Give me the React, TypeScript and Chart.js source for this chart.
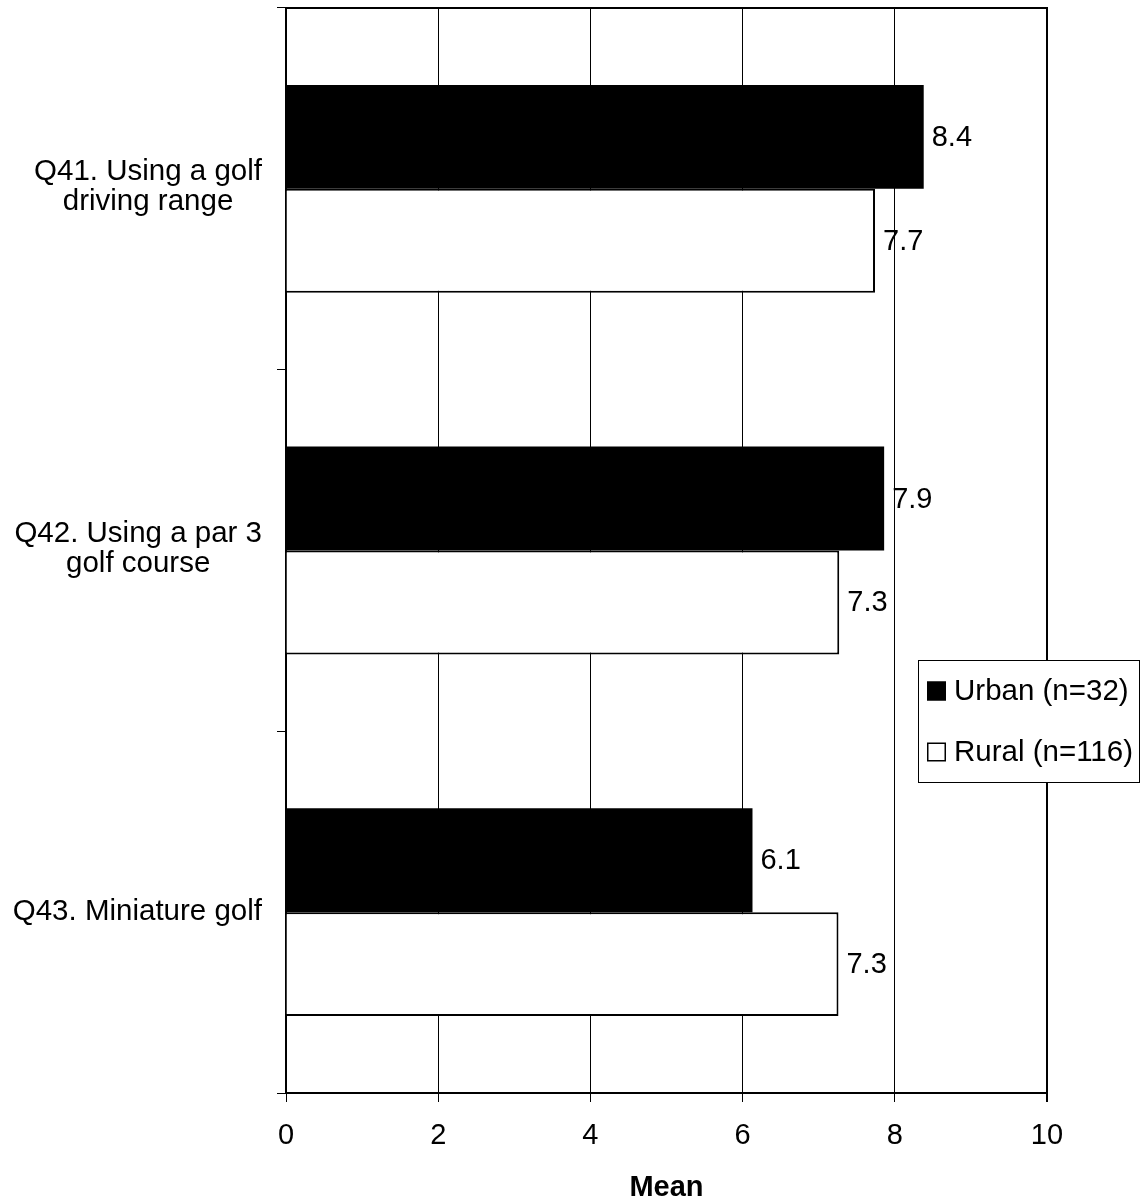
import React, { useEffect, useRef } from 'react';
import { Chart, registerables } from 'chart.js';

Chart.register(...registerables);

const categories: string[][] = [
  ['Q41. Using a golf', 'driving range'],
  ['Q42. Using a par 3', 'golf course'],
  ['Q43. Miniature golf'],
];
const urbanValues = [8.38, 7.86, 6.13];
const ruralValues = [7.74, 7.27, 7.26];
const seriesNames = ['Urban (n=32)', 'Rural (n=116)'];
const xMin = 0;
const xMax = 10;
const xStep = 2;
const axisTitle = 'Mean';

const FONT = "'Liberation Sans', Arial, Helvetica, sans-serif";

const valueLabelsPlugin = {
  id: 'valueLabels',
  afterDatasetsDraw(chart: any) {
    const ctx = chart.ctx;
    ctx.save();
    ctx.font = `29px ${FONT}`;
    ctx.fillStyle = '#000';
    ctx.textAlign = 'left';
    ctx.textBaseline = 'middle';
    chart.data.datasets.forEach((ds: any, di: number) => {
      const meta = chart.getDatasetMeta(di);
      meta.data.forEach((bar: any, i: number) => {
        const v = ds.data[i] as number;
        ctx.fillText(v.toFixed(1), bar.x + 8, bar.y + 1);
      });
    });
    ctx.restore();
  },
};

const frameAndLabelsPlugin = {
  id: 'frameAndLabels',
  beforeDatasetsDraw(chart: any) {
    const { ctx, chartArea } = chart;
    ctx.save();
    ctx.strokeStyle = '#000';
    ctx.lineWidth = 2;
    ctx.beginPath();
    ctx.moveTo(chartArea.left - 1, chartArea.top);
    ctx.lineTo(chartArea.right + 1, chartArea.top);
    ctx.moveTo(chartArea.right, chartArea.top);
    ctx.lineTo(chartArea.right, chartArea.bottom);
    ctx.stroke();
    ctx.restore();
  },
  afterDraw(chart: any) {
    const { ctx, chartArea } = chart;
    const yScale = chart.scales.y;
    ctx.save();
    // category labels: block right-aligned, lines centred inside block
    ctx.font = `29.5px ${FONT}`;
    ctx.fillStyle = '#000';
    ctx.textAlign = 'center';
    ctx.textBaseline = 'alphabetic';
    const rightEdge = chartArea.left - 24;
    const lineStep = 30;
    (chart.data.labels as string[][]).forEach((lines, i) => {
      const cy = yScale.getPixelForValue(i);
      const w = Math.max(...lines.map((l) => ctx.measureText(l).width));
      const cx = rightEdge - w / 2;
      const n = lines.length;
      const first = cy + 8 - (n - 1) * 17;
      lines.forEach((l, k) => ctx.fillText(l, cx, first + k * lineStep));
    });

    // legend
    const bx = 918, by = 660, bw = 221, bh = 122;
    ctx.fillStyle = '#fff';
    ctx.fillRect(bx, by, bw, bh);
    ctx.strokeStyle = '#000';
    ctx.lineWidth = 1;
    ctx.strokeRect(bx + 0.5, by + 0.5, bw, bh);
    ctx.textAlign = 'left';
    ctx.textBaseline = 'middle';
    ctx.font = `29.5px ${FONT}`;
    chart.data.datasets.forEach((ds: any, i: number) => {
      const cy = by + 31 + i * 61;
      const mx = bx + 9;
      const ms = 19;
      ctx.fillStyle = ds.backgroundColor;
      ctx.fillRect(mx, cy - ms / 2, ms, ms);
      ctx.strokeStyle = '#000';
      ctx.lineWidth = 1.5;
      ctx.strokeRect(mx + 0.75, cy - ms / 2 + 0.75, ms - 1.5, ms - 1.5);
      ctx.fillStyle = '#000';
      ctx.fillText(ds.label, bx + 36, cy + 1);
    });
    ctx.restore();
  },
};

export default function App() {
  const ref = useRef<HTMLCanvasElement | null>(null);

  useEffect(() => {
    if (!ref.current) return;
    const chart = new Chart(ref.current, {
      type: 'bar',
      data: {
        labels: categories as any,
        datasets: [
          {
            label: seriesNames[0],
            data: urbanValues,
            backgroundColor: '#000000',
            borderColor: '#000000',
            borderWidth: 0,
            categoryPercentage: 0.5746,
            barPercentage: 1,
          },
          {
            label: seriesNames[1],
            data: ruralValues,
            backgroundColor: '#ffffff',
            borderColor: '#000000',
            borderWidth: 2,
            categoryPercentage: 0.5746,
            barPercentage: 1,
          },
        ],
      },
      options: {
        indexAxis: 'y',
        animation: false,
        responsive: false,
        devicePixelRatio: 1,
        layout: { padding: { left: 0, top: 8, right: 96, bottom: 0 } },
        plugins: {
          legend: { display: false },
          tooltip: { enabled: false },
          title: { display: false },
        },
        scales: {
          x: {
            type: 'linear',
            min: xMin,
            max: xMax,
            ticks: {
              stepSize: xStep,
              color: '#000',
              font: { family: FONT, size: 29 },
              padding: 17,
            },
            grid: {
              color: '#000',
              lineWidth: (c: any) => (c.tick && c.tick.value === xMax ? 2 : 1),
              drawTicks: true,
              tickLength: 9,
            },
            border: { display: true, color: '#000', width: 2 },
            title: {
              display: true,
              text: axisTitle,
              color: '#000',
              font: { family: FONT, size: 29, weight: 'bold' },
              padding: { top: 0, bottom: -6 },
            },
            afterFit: (scale: any) => {
              scale.height = 106;
            },
          },
          y: {
            type: 'category',
            offset: true,
            ticks: { display: false },
            grid: {
              drawOnChartArea: false,
              drawTicks: true,
              tickLength: 9,
              color: '#000',
              lineWidth: 1,
              offset: true,
            },
            border: { display: true, color: '#000', width: 2 },
            afterFit: (scale: any) => {
              scale.width = 286;
            },
          },
        },
      } as any,
      plugins: [valueLabelsPlugin, frameAndLabelsPlugin],
    });
    return () => chart.destroy();
  }, []);

  return (
    <div style={{ position: 'absolute', left: 0, top: 0, width: 1143, height: 1199, overflow: 'hidden', background: '#fff' }}>
      <canvas ref={ref} width={1143} height={1199} style={{ display: 'block' }} />
    </div>
  );
}
